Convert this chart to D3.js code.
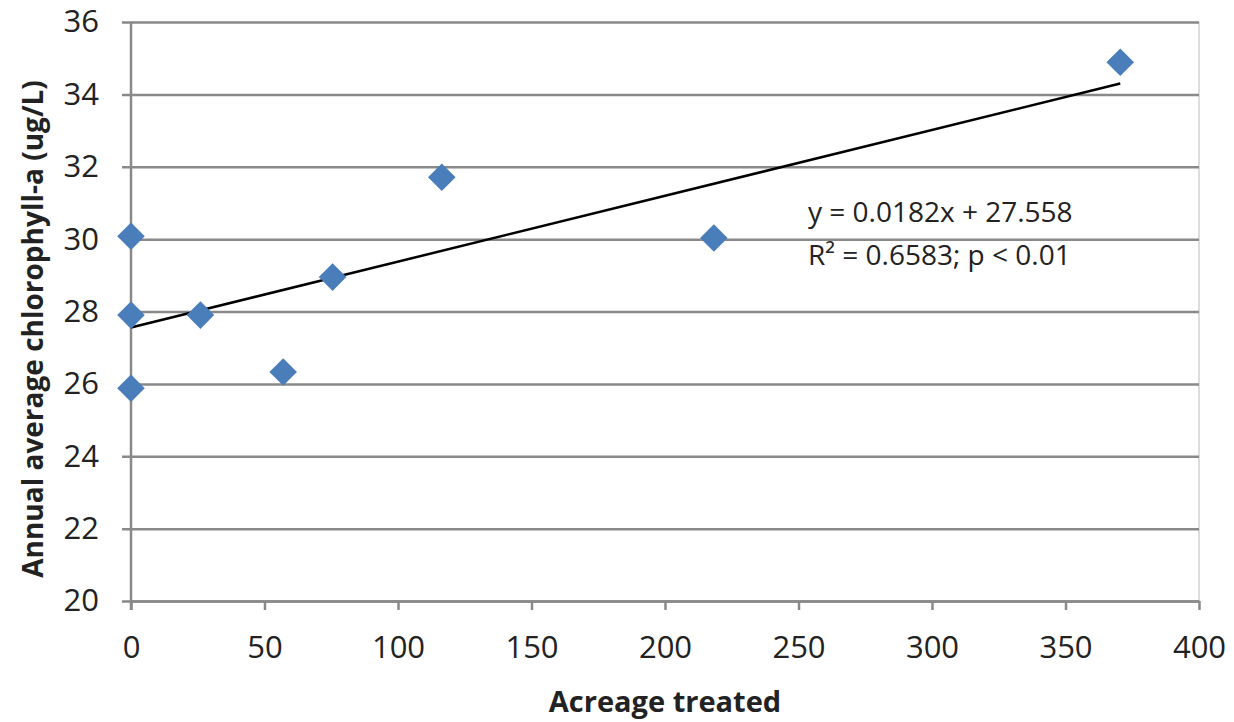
<!DOCTYPE html>
<html>
<head>
<meta charset="utf-8">
<script src="https://cdn.jsdelivr.net/npm/d3@7"></script>
<style>
  body { margin: 0; background: #fff; }
  text { font-family: "Open Sans", sans-serif; fill: #222; }
</style>
</head>
<body>
<div id="chart"></div>
<script>
// data
var acreage = [0, 0, 0, 26, 57, 75.5, 116.4, 218.3, 370.5];
var chlorophyll = [30.08, 27.9, 25.88, 27.9, 26.33, 28.95, 31.71, 30.03, 34.89];
var xTicks = [0, 50, 100, 150, 200, 250, 300, 350, 400];
var yTicks = [20, 22, 24, 26, 28, 30, 32, 34, 36];
var slope = 0.0182;
var intercept = 27.558;
var eqLines = ["y = 0.0182x + 27.558", "R² = 0.6583; p < 0.01"];

var svgWidth = 1234;
var svgHeight = 722;
var margin = { top: 22, right: 35, bottom: 121, left: 131 };
var width = svgWidth - margin.left - margin.right;
var height = svgHeight - margin.top - margin.bottom;

var svg = d3.select('#chart')
    .append('svg')
    .attr('width', svgWidth)
    .attr('height', svgHeight);
var chartGroup = svg.append('g')
    .attr('transform', `translate(${margin.left}, ${margin.top})`);

var xScale = d3.scaleLinear().domain([0, 400]).range([0, width]);
var yScale = d3.scaleLinear().domain([20, 36]).range([height, 0]);

var gridColor = '#898989';

// right border of plot
chartGroup.append('line')
    .attr('x1', width).attr('x2', width)
    .attr('y1', 0).attr('y2', height)
    .attr('stroke', '#bbb')
    .attr('stroke-width', 1);

// horizontal gridlines with left ticks
var yAxis = chartGroup.append('g')
    .call(d3.axisLeft(yScale).tickValues(yTicks).tickSize(-width).tickSizeOuter(0).tickPadding(32));
yAxis.select('.domain').remove();
yAxis.selectAll('.tick line')
    .attr('x1', -9)
    .attr('stroke', gridColor)
    .attr('stroke-width', 2.5);
yAxis.selectAll('.tick text')
    .style('font-size', '31px')
    .attr('fill', '#222');

// x axis
var xAxis = chartGroup.append('g')
    .attr('transform', `translate(0, ${height})`)
    .call(d3.axisBottom(xScale).tickValues(xTicks).tickSize(9).tickSizeOuter(0).tickPadding(26));
xAxis.select('.domain')
    .attr('stroke', gridColor)
    .attr('stroke-width', 2.5);
xAxis.selectAll('.tick line')
    .attr('stroke', gridColor)
    .attr('stroke-width', 2.5);
xAxis.selectAll('.tick text')
    .style('font-size', '31px')
    .attr('fill', '#222');

// y axis line
chartGroup.append('line')
    .attr('x1', 0).attr('x2', 0)
    .attr('y1', 0).attr('y2', height + 9)
    .attr('stroke', gridColor)
    .attr('stroke-width', 2.5);

// trendline
var xMax = d3.max(acreage);
chartGroup.append('line')
    .attr('x1', xScale(0))
    .attr('y1', yScale(intercept))
    .attr('x2', xScale(xMax))
    .attr('y2', yScale(intercept + slope * xMax))
    .attr('stroke', '#000')
    .attr('stroke-width', 2.5);

// diamond markers
var diamond = d3.symbol().type(d3.symbolSquare).size(380);
chartGroup.append('g').selectAll('path')
    .data(acreage)
    .enter()
    .append('path')
    .attr('d', diamond)
    .attr('transform', (d, i) => `translate(${xScale(d)}, ${yScale(chlorophyll[i])}) rotate(45)`)
    .attr('fill', '#4a7ebb');

// equation
chartGroup.append('g').selectAll('text')
    .data(eqLines)
    .enter()
    .append('text')
    .attr('x', 677)
    .attr('y', (d, i) => 200 + i * 43)
    .style('font-size', '28px')
    .text(d => d);

// axis titles
svg.append('text')
    .attr('x', margin.left + width / 2)
    .attr('y', 712)
    .attr('text-anchor', 'middle')
    .style('font-size', '29px')
    .style('font-weight', 'bold')
    .text('Acreage treated');

svg.append('text')
    .attr('transform', `translate(43, 329) rotate(-90)`)
    .attr('text-anchor', 'middle')
    .style('font-size', '28px')
    .style('font-weight', 'bold')
    .text('Annual average chlorophyll-a (ug/L)');
</script>
</body>
</html>
